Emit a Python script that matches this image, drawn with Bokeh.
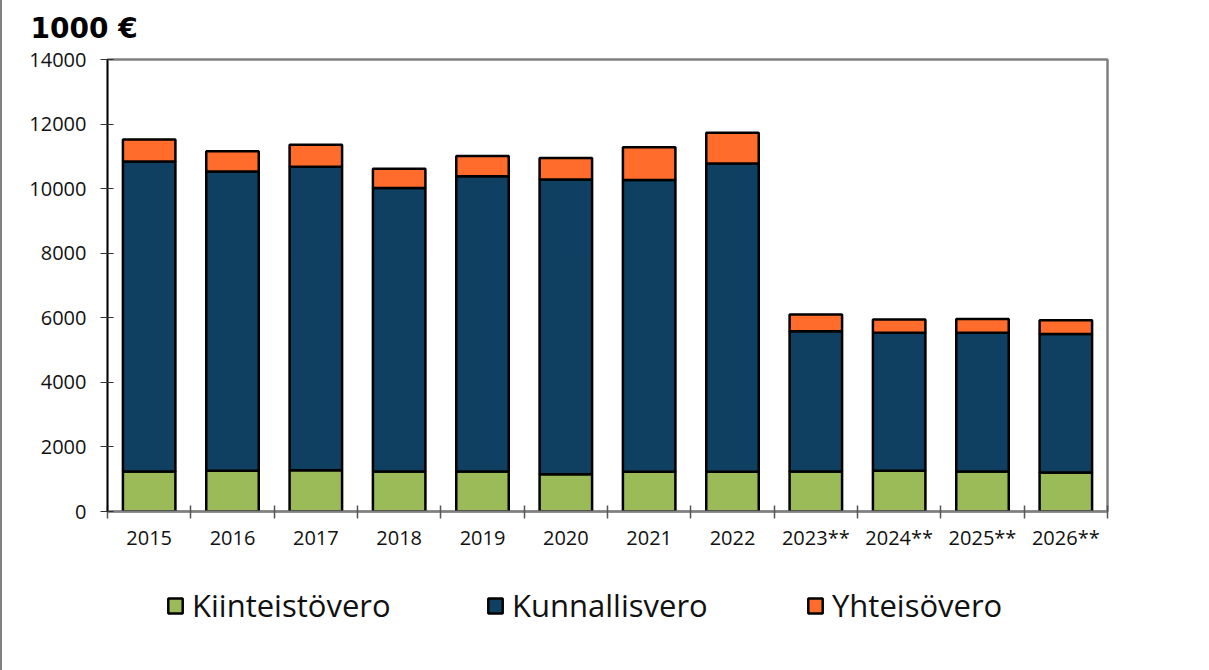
from bokeh.plotting import figure
from bokeh.layouts import column
from bokeh.models import (ColumnDataSource, FixedTicker, Legend, LegendItem,
                          Range1d, Label, CustomJSTickFormatter)
from bokeh.embed import file_html
from bokeh.resources import INLINE

# ---- data (1000 €) ----
years = ["2015", "2016", "2017", "2018", "2019", "2020", "2021", "2022",
         "2023**", "2024**", "2025**", "2026**"]
kiinteistovero = [1240, 1260, 1280, 1240, 1240, 1150, 1230, 1230, 1240, 1260, 1240, 1210]
kunnallisvero = [9600, 9270, 9400, 8780, 9140, 9130, 9040, 9550, 4340, 4280, 4300, 4290]
yhteisovero = [680, 630, 680, 600, 630, 670, 1010, 950, 520, 410, 425, 420]
series_names = ["Kiinteistövero", "Kunnallisvero", "Yhteisövero"]
y_ticks = [0, 2000, 4000, 6000, 8000, 10000, 12000, 14000]
unit_title = "1000 €"

colors = ["#9BBB59", "#0F4061", "#FF6C2C"]
FONT = "Open Sans"
BORDER = {"border-left": "2px solid #808080"}
W = 1207

centers = [i + 0.5 for i in range(len(years))]
bounds = list(range(len(years) + 1))

source = ColumnDataSource(dict(x=centers, k=kiinteistovero, ku=kunnallisvero, y=yhteisovero))

# ---- title strip ----
tf = figure(width=W, height=40, output_backend="svg", toolbar_location=None,
            x_range=Range1d(0, W), y_range=Range1d(0, 40),
            x_axis_location=None, y_axis_location=None, frame_align=False,
            min_border=0, outline_line_color=None)
tf.styles = BORDER
tf.grid.visible = False
tf.add_layout(Label(x=28, y=12, text=unit_title, text_font="DejaVu Sans",
                    text_font_size="28px", text_font_style="bold",
                    text_color="black", text_baseline="alphabetic"))

# ---- main chart ----
p = figure(width=W, height=520, output_backend="svg", toolbar_location=None,
           x_range=Range1d(0, len(years)), y_range=Range1d(0, 14000),
           min_border_left=105, min_border_right=102, min_border_top=19,
           min_border_bottom=49, frame_align=False)
p.styles = BORDER

renderers = p.vbar_stack(["k", "ku", "y"], x="x", width=0.63, color=colors,
                         line_color="black", line_width=2.5, source=source)

p.grid.visible = False
p.outline_line_color = "#808080"
p.outline_line_width = 2.5

# x axis: labels at centers, ticks at category boundaries
xa = p.xaxis[0]
xa.ticker = FixedTicker(ticks=centers, minor_ticks=bounds)
xa.formatter = CustomJSTickFormatter(args=dict(labels=years),
                                     code="return labels[Math.floor(tick)];")
xa.axis_line_color = "#808080"
xa.axis_line_width = 2
xa.major_tick_line_color = None
xa.major_tick_in = 0
xa.major_tick_out = 0
xa.minor_tick_line_color = "#555555"
xa.minor_tick_line_width = 1.5
xa.minor_tick_in = 6
xa.minor_tick_out = 7
xa.major_label_standoff = 5
xa.major_label_text_font = FONT
xa.major_label_text_font_size = "20px"
xa.major_label_text_color = "#111111"

ya = p.yaxis[0]
ya.ticker = FixedTicker(ticks=y_ticks)
ya.axis_line_color = "black"
ya.axis_line_width = 1.5
ya.major_tick_line_color = "#333333"
ya.major_tick_line_width = 1.2
ya.major_tick_in = 6
ya.major_tick_out = 7
ya.minor_tick_line_color = None
ya.major_label_standoff = 14
ya.major_label_text_font = FONT
ya.major_label_text_font_size = "20px"
ya.major_label_text_color = "#111111"

# ---- legend strip below the chart (same data, drawn out of its view) ----
lf = figure(width=W, height=110, output_backend="svg", toolbar_location=None,
            x_range=Range1d(-100, -99), y_range=Range1d(-100, -99),
            x_axis_location=None, y_axis_location=None, frame_align=False,
            min_border=0, outline_line_color=None)
lf.styles = BORDER
lf.grid.visible = False
proxies = lf.vbar_stack(["k", "ku", "y"], x="x", width=0.63, color=colors,
                        line_color="black", line_width=2.5, source=source)
legend = Legend(items=[LegendItem(label=n, renderers=[r]) for n, r in zip(series_names, proxies)],
                location=(164, 44), orientation="horizontal",
                glyph_width=18, glyph_height=19, label_width=294, spacing=0,
                label_text_font=FONT, label_text_font_size="31px",
                label_text_align="left", label_text_color="#111111",
                label_standoff=8, padding=0, margin=0, border_line_color=None,
                background_fill_alpha=0)
lf.add_layout(legend, "center")

layout = column(tf, p, lf, spacing=0)
open("out.html", "w").write(file_html(layout, INLINE))
